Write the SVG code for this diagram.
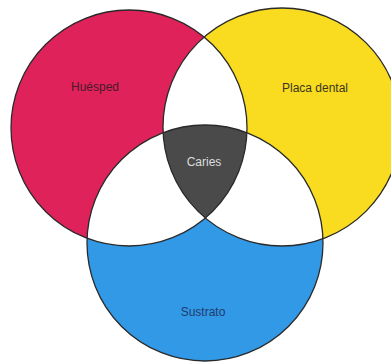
<svg xmlns="http://www.w3.org/2000/svg" width="391" height="362" viewBox="0 0 391 362">
<style>
.lbl{font-family:"Liberation Sans",Arial,sans-serif;font-size:12px;text-anchor:middle}
.edge{fill:none;stroke:#2a2a2a;stroke-width:1.3}
</style>
<defs>
<clipPath id="cR"><circle cx="129" cy="128" r="118"/></clipPath>
<clipPath id="cY"><circle cx="282" cy="127" r="119"/></clipPath>
<clipPath id="cB"><circle cx="205" cy="243" r="118"/></clipPath>
</defs>
<rect width="391" height="362" fill="#ffffff"/>
<g id="huesped-fill"><circle cx="129" cy="128" r="118" fill="#df2259"/></g>
<g id="placa-fill"><circle cx="282" cy="127" r="119" fill="#f9dc1f"/></g>
<g id="sustrato-fill"><circle cx="205" cy="243" r="118" fill="#3199e6"/></g>
<g id="overlaps">
<circle cx="282" cy="127" r="119" fill="#ffffff" clip-path="url(#cR)"/>
<circle cx="205" cy="243" r="118" fill="#ffffff" clip-path="url(#cR)"/>
<circle cx="205" cy="243" r="118" fill="#ffffff" clip-path="url(#cY)"/>
</g>
<g id="caries">
<g clip-path="url(#cR)"><g clip-path="url(#cY)"><circle cx="205" cy="243" r="118" fill="#4a4a4a"/></g></g>
<text class="lbl" x="204" y="166" fill="#dddddd">Caries</text>
</g>
<g id="outlines">
<circle class="edge" cx="129" cy="128" r="118"/>
<circle class="edge" cx="282" cy="127" r="119"/>
<circle class="edge" cx="205" cy="243" r="118"/>
</g>
<g id="huesped"><text class="lbl" x="95" y="91" fill="#4a1a2c">Huésped</text></g>
<g id="placa"><text class="lbl" x="315" y="92" fill="#3a3520">Placa dental</text></g>
<g id="sustrato"><text class="lbl" x="203" y="316" fill="#233a70">Sustrato</text></g>
</svg>
